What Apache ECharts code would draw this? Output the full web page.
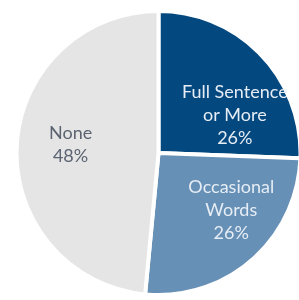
<!DOCTYPE html>
<html>
<head>
<meta charset="utf-8">
<script src="https://cdn.jsdelivr.net/npm/echarts@6/dist/echarts.min.js"></script>
<style>html,body{margin:0;padding:0;background:#fff;}#c{width:299px;height:300px;}</style>
</head>
<body>
<div id="c"></div>
<script>
const categories = ['Full Sentence\nor More', 'Occasional\nWords', 'None'];
const values = [25.6, 25.9, 48.5];
const colors = ['#03487f', '#6690b5', '#e5e5e5'];
const labelColors = ['#e6edf5', '#e6edf5', '#5c6472'];
const labelShift = [[23, 14], [24, 2], [-14, -5]];

const chart = echarts.init(document.getElementById('c'), null, {renderer: 'canvas'});
chart.setOption({
  animation: false,
  series: [{
    type: 'pie',
    center: [158.5, 153],
    radius: [0, 142],
    startAngle: 90,
    clockwise: true,
    avoidLabelOverlap: false,
    percentPrecision: 0,
    itemStyle: {borderColor: '#fff', borderWidth: 4},
    label: {
      show: true,
      position: 'inside',
      formatter: '{b}\n{d}%',
      fontFamily: 'Lato',
      fontSize: 18,
      lineHeight: 23,
      align: 'center'
    },
    labelLine: {show: false},
    labelLayout: function (p) {
      return {dx: labelShift[p.dataIndex][0], dy: labelShift[p.dataIndex][1]};
    },
    emphasis: {disabled: true},
    data: categories.map((c, i) => ({
      name: c, value: values[i],
      itemStyle: {color: colors[i]},
      label: {color: labelColors[i]}
    }))
  }]
});
</script>
</body>
</html>
